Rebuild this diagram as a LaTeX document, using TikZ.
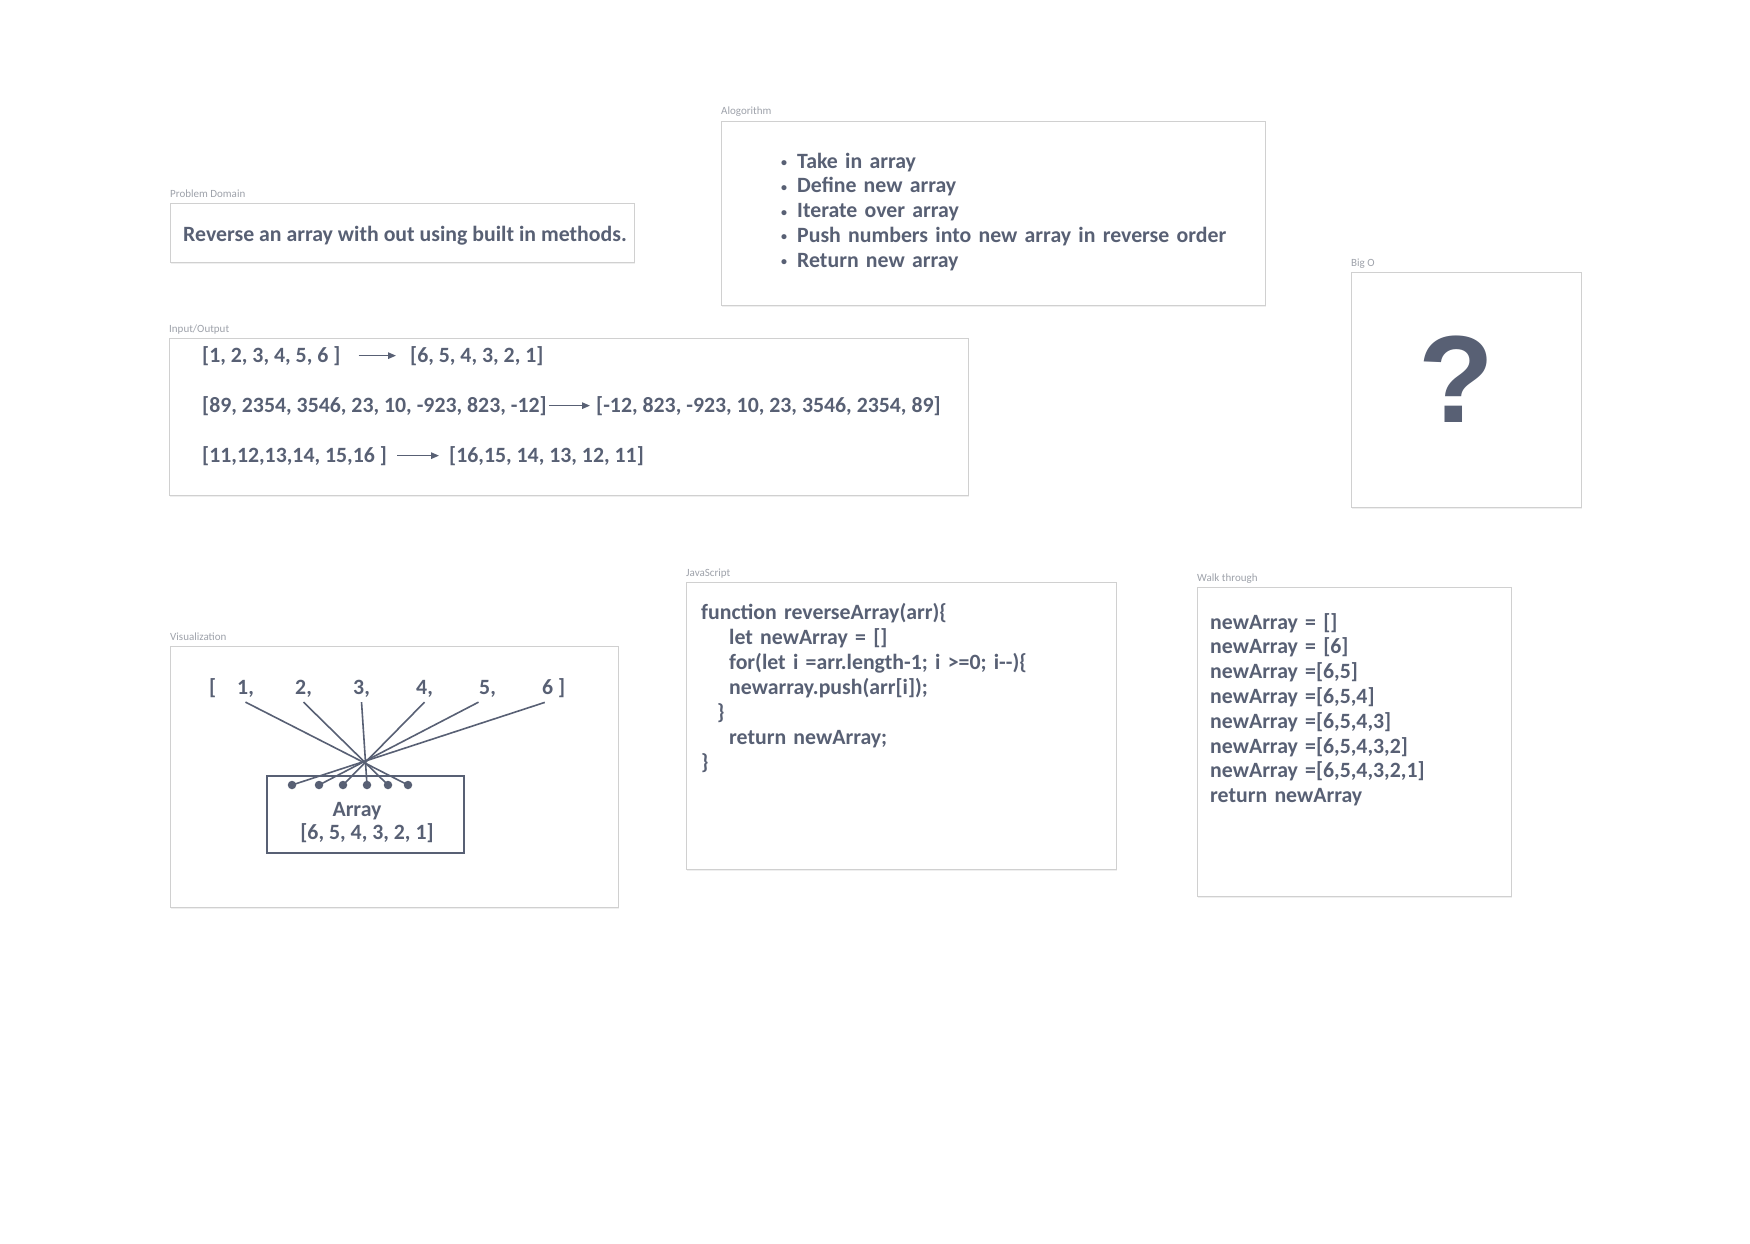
\documentclass[tikz,border=0pt]{standalone}
\usepackage{fontspec}
\setmainfont{Carlito}
\newfontfamily\qfont{Liberation Sans}
\usetikzlibrary{arrows.meta,positioning,shadows}
\definecolor{ink}{RGB}{88,96,116}
\definecolor{faint}{RGB}{158,162,170}
\definecolor{rim}{RGB}{208,208,208}
\newcommand{\bul}{\makebox[16pt][l]{\raisebox{1.5pt}{\fontsize{12}{12}\selectfont\textbullet}}}

\begin{document}
\begin{tikzpicture}[
  x=1pt, y=-1pt,
  panel/.style={draw=rim,line width=1.2pt,fill=white,anchor=north west,inner sep=0pt,
    drop shadow={shadow xshift=0.6pt,shadow yshift=-1.4pt,opacity=0.12}},
  lbl/.style={font=\fontsize{11}{13}\selectfont\mdseries,text=faint,anchor=base west,inner sep=0pt},
  txt/.style={font=\fontsize{21.8}{24.8}\selectfont\bfseries,text=ink,anchor=base west,inner sep=0pt},
  para/.style={txt,text width=480pt,align=left},
  num/.style={txt,inner ysep=5pt},
  flow/.style={-{Triangle[length=8pt,width=6.5pt]},line width=1.3pt,draw=ink},
  wire/.style={draw=ink,line width=1.6pt},
  dot/.style={circle,fill=ink,inner sep=0pt,minimum size=8.5pt},
  arrbox/.style={draw=ink,line width=2.6pt,minimum width=197pt,minimum height=77pt,inner sep=0pt}
]
\fill[white] (0,0) rectangle (1750,1244);
\useasboundingbox (0,0) rectangle (1750,1244);

% panels
\node[panel,minimum width=464pt,minimum height=59pt] (pd) at (170,203) {};
\node[panel,minimum width=544pt,minimum height=184pt] (alg) at (721,121) {};
\node[panel,minimum width=799pt,minimum height=157pt] (io) at (169,338) {};
\node[panel,minimum width=230pt,minimum height=235pt] (bigo) at (1351,272) {};
\node[panel,minimum width=448pt,minimum height=261pt] (vis) at (170,646) {};
\node[panel,minimum width=430pt,minimum height=287pt] (js) at (686,582) {};
\node[panel,minimum width=314pt,minimum height=309pt] (walk) at (1197,587) {};

\node[lbl] (pdlbl) at ([yshift=6pt]pd.north west) {Problem Domain};
\node[lbl] (alglbl) at ([yshift=6pt]alg.north west) {Alogorithm};
\node[lbl] (iolbl) at ([yshift=6pt]io.north west) {Input/Output};
\node[lbl] (bigolbl) at ([yshift=6pt]bigo.north west) {Big O};
\node[lbl] (vislbl) at ([yshift=6pt]vis.north west) {Visualization};
\node[lbl] (jslbl) at ([yshift=6pt]js.north west) {JavaScript};
\node[lbl] (walklbl) at ([yshift=6pt]walk.north west) {Walk through};

% problem domain
\node[txt] (pdtxt) at (183,241) {Reverse an array with out using built in methods.};

% algorithm
\node[para] (steps) at (781,168) {\bul Take in array\\
  \bul Define new array\\
  \bul Iterate over array\\
  \bul Push numbers into new array in reverse order\\
  \bul Return new array};

% input/output
\node[txt] (in1) at (202,362) {[1, 2, 3, 4, 5, 6 ]};
\node[txt] (out1) at (410,362) {[6, 5, 4, 3, 2, 1]};
\node[txt] (in2) at (202,412) {[89, 2354, 3546, 23, 10, -923, 823, -12]};
\node[txt] (out2) at (596,412) {[-12, 823, -923, 10, 23, 3546, 2354, 89]};
\node[txt] (in3) at (202,462) {[11,12,13,14, 15,16 ]};
\node[txt] (out3) at (449,462) {[16,15, 14, 13, 12, 11]};
\draw[flow,shorten <=18pt,shorten >=14pt] (in1.east) -- (out1.west);
\draw[flow,shorten <=2pt,shorten >=6pt] (in2.east) -- (out2.west);
\draw[flow,shorten <=10pt,shorten >=10pt] (in3.east) -- (out3.west);

% big o
\node[inner sep=0pt,text=ink] (qm) at (1456,379) {\qfont\bfseries\fontsize{124}{124}\selectfont ?};

% visualization
\node[num] (vb) at (209,694) {[};
\node[num] (n1) at (237,694) {1,};
\node[num] (n2) at (295,694) {2,};
\node[num] (n3) at (353,694) {3,};
\node[num] (n4) at (416,694) {4,};
\node[num] (n5) at (479,694) {5,};
\node[num] (n6) at (542,694) {6 ]};
\node[arrbox] (arr) at (365.5,814.5) {};
\node[dot] (d1) at (292,785) {};
\node[dot] (d2) at (319,785) {};
\node[dot] (d3) at (343,785) {};
\node[dot] (d4) at (367,785) {};
\node[dot] (d5) at (388,785) {};
\node[dot] (d6) at (408,785) {};
\node[txt,anchor=base] (arrname) at (357,816) {Array};
\node[txt,anchor=base] (arrvals) at (367,839) {[6, 5, 4, 3, 2, 1]};
\draw[wire] (n1.south) -- (d6.center);
\draw[wire] (n2.south) -- (d5.center);
\draw[wire] (n3.south) -- (d4.center);
\draw[wire] (n4.south) -- (d3.center);
\draw[wire] ([xshift=-9pt]n5.south) -- (d2.center);
\draw[wire] ([xshift=-9pt]n6.south) -- (d1.center);

% javascript
\node[para,font=\fontsize{21.8}{25.1}\selectfont\bfseries] (code) at (701,619) {function reverseArray(arr)\{\\
  \hspace*{28pt}let newArray = []\\
  \hspace*{28pt}for(let i =arr.length-1; i >=0; i-{}-)\{\\
  \hspace*{28pt}newarray.push(arr[i]);\\
  \hspace*{16pt}\}\\
  \hspace*{28pt}return newArray;\\
  \}};

% walk through
\node[para] (trace) at (1210,629) {newArray = []\\
  newArray = [6]\\
  newArray =[6,5]\\
  newArray =[6,5,4]\\
  newArray =[6,5,4,3]\\
  newArray =[6,5,4,3,2]\\
  newArray =[6,5,4,3,2,1]\\
  return newArray};
\end{tikzpicture}
\end{document}
